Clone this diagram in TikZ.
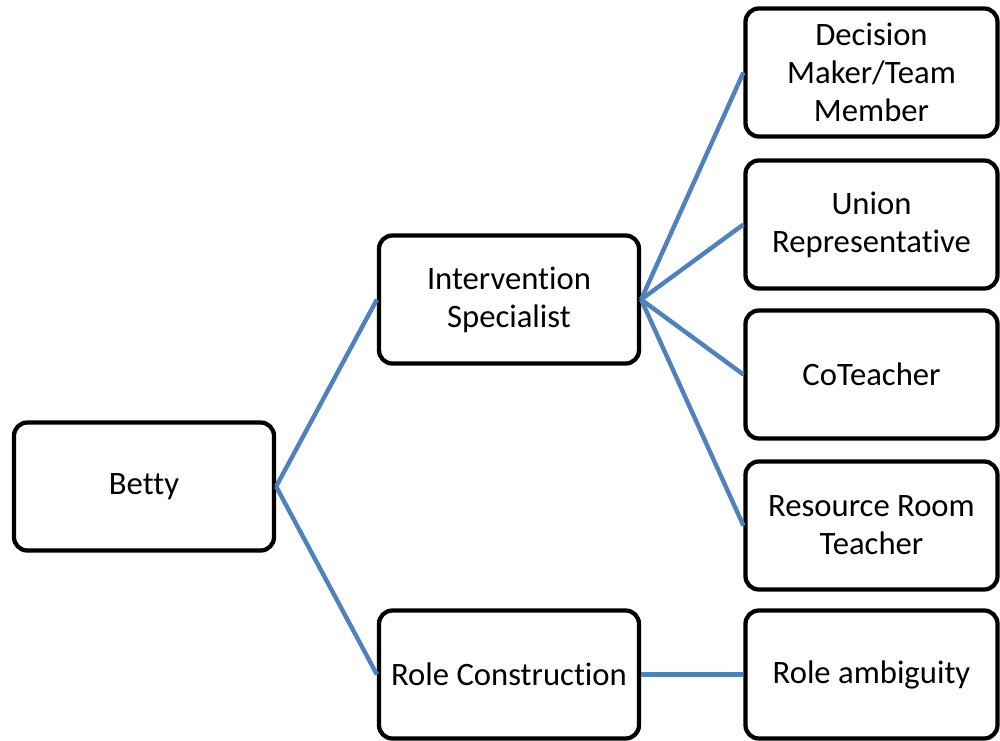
\documentclass[tikz,border=0pt]{standalone}
\usepackage{fontspec}
\setmainfont[Ligatures=NoCommon]{Carlito}
\begin{document}
\begin{tikzpicture}[x=0.75pt,y=-0.75pt,
  box/.style={draw=black,line width=3.2pt,rounded corners=10pt,fill=white,
    align=center,font=\fontsize{24.5}{28.5}\selectfont,inner sep=0pt,
    minimum height=96pt},
  lbox/.style={box,minimum width=195pt},
  rbox/.style={box,minimum width=189pt},
  link/.style={draw={rgb,255:red,79;green,129;blue,189},line width=3.3pt}]
\useasboundingbox (0,0) rectangle (1000,740);
\node[lbox] (betty) at (144,486.5) {Betty};
\node[lbox] (int) at (509,299.5) {Intervention\\Specialist};
\node[lbox] (rc) at (509,674.5) {Role Construction};
\node[rbox] (dm) at (871.5,72.5) {Decision\\Maker/Team\\Member};
\node[rbox] (ur) at (871.5,224.5) {Union\\Representative};
\node[rbox] (ct) at (871.5,374.5) {CoTeacher};
\node[rbox] (rr) at (871.5,525.5) {Resource Room\\Teacher};
\node[rbox] (ra) at (871.5,674.5) {Role ambiguity};
\draw[link] (betty.east) -- (int.west);
\draw[link] (betty.east) -- (rc.west);
\draw[link] (int.east) -- (dm.west);
\draw[link] (int.east) -- (ur.west);
\draw[link] (int.east) -- (ct.west);
\draw[link] (int.east) -- (rr.west);
\draw[link] (rc.east) -- (ra.west);
\end{tikzpicture}
\end{document}
